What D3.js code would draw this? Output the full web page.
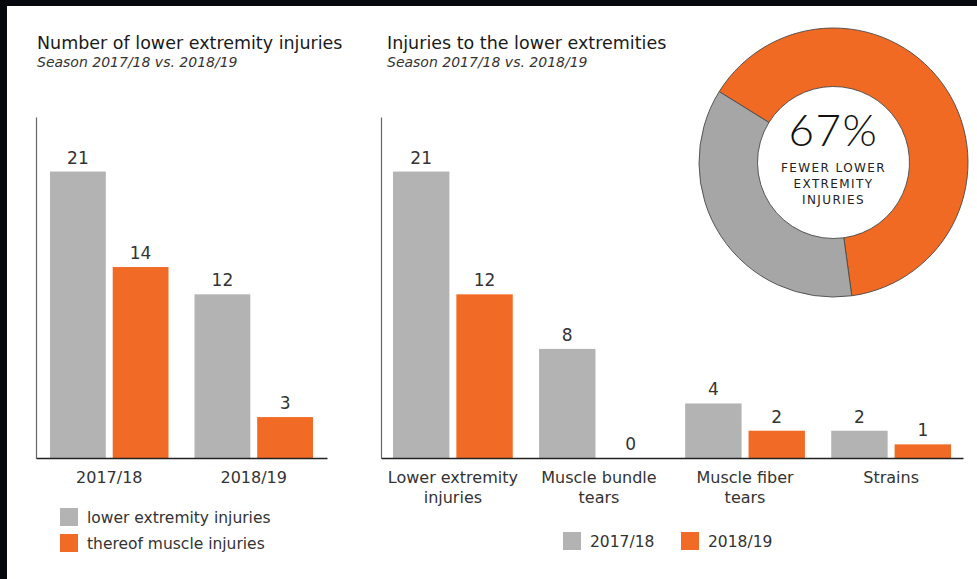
<!DOCTYPE html>
<html>
<head>
<meta charset="utf-8">
<script src="https://cdn.jsdelivr.net/npm/d3@7"></script>
<style>
  body { margin: 0; background: #000; }
  svg { display: block; }
</style>
</head>
<body>
<div id="chart"></div>
<script>
// data
const leftGroups = ["2017/18", "2018/19"];
const leftSeries = ["lower extremity injuries", "thereof muscle injuries"];
const leftValues = [[21, 14], [12, 3]];

const rightCategories = [["Lower extremity", "injuries"], ["Muscle bundle", "tears"], ["Muscle fiber", "tears"], ["Strains"]];
const rightSeries = ["2017/18", "2018/19"];
const rightValues = [[21, 12], [8, 0], [4, 2], [2, 1]];

const donutParts = ["orange", "gray"];
const donutValues = [64, 36];
const donutHeadline = "67%";
const donutLines = ["FEWER LOWER", "EXTREMITY", "INJURIES"];

const width = 977, height = 579;
const gray = "#b3b3b3", orange = "#f26b26";
const font = "'DejaVu Sans', sans-serif";

const svg = d3.select("#chart").append("svg")
  .attr("width", width)
  .attr("height", height);

// black frame, white card
svg.append("rect").attr("width", width).attr("height", height).attr("fill", "#05080c");
svg.append("rect").attr("x", 7).attr("y", 6).attr("width", width - 7).attr("height", height - 6).attr("fill", "#fff");

const baseY = 458, topY = 117;
const y = d3.scaleLinear().domain([0, 25]).range([baseY, topY]);

function titleBlock(x, title) {
  svg.append("text").attr("x", x).attr("y", 49)
    .attr("font-family", font).attr("font-size", 17.5).attr("fill", "#1a1a1a")
    .text(title);
  svg.append("text").attr("x", x).attr("y", 67)
    .attr("font-family", font).attr("font-size", 14).attr("font-style", "italic").attr("fill", "#333")
    .text("Season 2017/18 vs. 2018/19");
}

function barChart(x0, x1, groups, labels, values, padOuter) {
  const x = d3.scaleBand().domain(d3.range(groups.length)).range([x0, x1])
    .paddingInner(0.18).paddingOuter(padOuter);
  const xs = d3.scaleBand().domain([0, 1]).range([0, x.bandwidth()]).paddingInner(0.11);
  const g = svg.append("g");

  const grp = g.selectAll("g.grp").data(values).join("g")
    .attr("transform", (d, i) => `translate(${x(i)},0)`);

  grp.selectAll("rect").data(d => d).join("rect")
    .attr("x", (d, j) => xs(j))
    .attr("y", d => y(d))
    .attr("width", xs.bandwidth())
    .attr("height", d => baseY - y(d))
    .attr("fill", (d, j) => j ? orange : gray);

  grp.selectAll("text").data(d => d).join("text")
    .attr("x", (d, j) => xs(j) + xs.bandwidth() / 2)
    .attr("y", d => y(d) - 8)
    .attr("text-anchor", "middle")
    .attr("font-family", font).attr("font-size", 17).attr("fill", "#333")
    .text(d => d);

  // axes: plain lines, labels handled below
  g.append("g").attr("transform", `translate(${x0},0)`)
    .call(d3.axisLeft(y).ticks(0).tickSizeOuter(0))
    .call(a => a.select(".domain").attr("stroke", "#666").attr("stroke-width", 1.2));

  const ax = g.append("g").attr("transform", `translate(0,${baseY})`)
    .call(d3.axisBottom(x).tickSize(0).tickSizeOuter(0).tickFormat(""))
    .call(a => a.select(".domain").attr("stroke", "#222").attr("stroke-width", 1.5));

  ax.selectAll(".tick text").remove();
  ax.selectAll(".tick").append("text")
    .attr("text-anchor", "middle")
    .attr("font-family", font).attr("font-size", 16).attr("fill", "#333")
    .selectAll("tspan").data(i => [].concat(labels[i])).join("tspan")
    .attr("x", 0)
    .attr("y", (d, k) => 25 + k * 20)
    .text(d => d);
}

function legendItem(x, yTop, color, label) {
  svg.append("rect").attr("x", x).attr("y", yTop).attr("width", 18).attr("height", 18).attr("fill", color);
  svg.append("text").attr("x", x + 27).attr("y", yTop + 15)
    .attr("font-family", font).attr("font-size", 15.5).attr("fill", "#333")
    .text(label);
}

// left chart
titleBlock(37, "Number of lower extremity injuries");
barChart(36, 327, leftGroups, leftGroups, leftValues, 0.097);
legendItem(60, 508, gray, leftSeries[0]);
legendItem(60, 534, orange, leftSeries[1]);

// right chart
titleBlock(387, "Injuries to the lower extremities");
barChart(381, 963, rightCategories, rightCategories, rightValues, 0.082);
legendItem(563, 532, gray, rightSeries[0]);
legendItem(681, 532, orange, rightSeries[1]);

// donut
const cx = 833.5, cy = 162.5;
const start = 301.8 * Math.PI / 180;
const pie = d3.pie().sort(null).startAngle(start).endAngle(start + 2 * Math.PI);
const arc = d3.arc().innerRadius(76).outerRadius(134.5);
const donut = svg.append("g").attr("transform", `translate(${cx},${cy})`);

donut.selectAll("path").data(pie(donutValues)).join("path")
  .attr("d", arc)
  .attr("fill", (d, i) => donutParts[i] === "orange" ? "#f06a24" : "#a6a6a6")
  .attr("stroke", "#4a4a4a").attr("stroke-width", 0.9);

donut.append("text").attr("y", -17)
  .attr("text-anchor", "middle")
  .attr("font-family", "Lato, sans-serif").attr("font-weight", 300).attr("font-size", 44)
  .attr("letter-spacing", 1.5).attr("fill", "#111")
  .text(donutHeadline);

donut.append("text")
  .attr("text-anchor", "middle")
  .attr("font-family", font).attr("font-size", 12).attr("letter-spacing", 1.4).attr("fill", "#222")
  .selectAll("tspan").data(donutLines).join("tspan")
  .attr("x", 0)
  .attr("y", (d, i) => 9 + i * 16)
  .text(d => d);
</script>
</body>
</html>
